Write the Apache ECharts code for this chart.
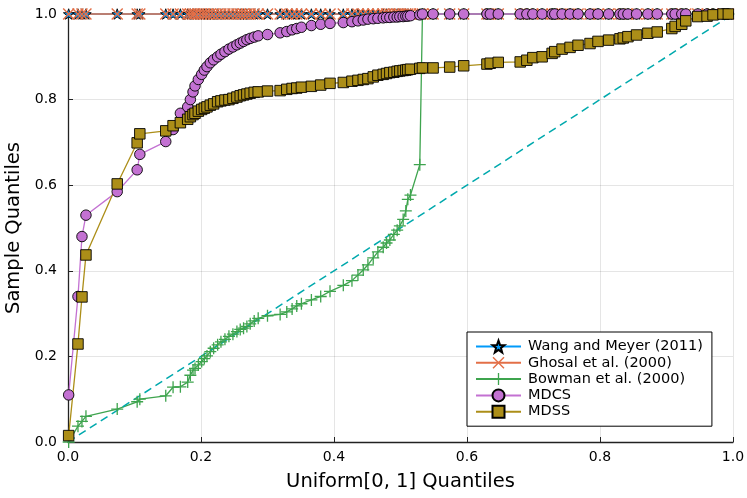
<!DOCTYPE html>
<html>
<head>
<meta charset="utf-8">
<script src="https://cdn.jsdelivr.net/npm/echarts@6/dist/echarts.min.js"></script>
<style>
html, body { margin: 0; padding: 0; background: #fff; }
#chart { width: 747px; height: 498px; }
</style>
</head>
<body>
<div id="chart"></div>
<script>
// sorted uniform[0,1] sample used as x for every series
var uniformQ = [
    0.001, 0.015, 0.021, 0.027, 0.074, 0.104, 0.108, 0.147, 0.158, 0.169,
    0.180, 0.184, 0.188, 0.191, 0.196, 0.201, 0.205, 0.209, 0.214, 0.219,
    0.225, 0.230, 0.236, 0.242, 0.248, 0.254, 0.259, 0.264, 0.269, 0.274,
    0.280, 0.286, 0.300, 0.319, 0.329, 0.337, 0.344, 0.351, 0.366, 0.380,
    0.394, 0.414, 0.427, 0.436, 0.444, 0.451, 0.459, 0.466, 0.474, 0.479,
    0.484, 0.490, 0.495, 0.499, 0.504, 0.508, 0.511, 0.515, 0.529, 0.533,
    0.549, 0.574, 0.595, 0.630, 0.635, 0.647, 0.680, 0.690, 0.699, 0.713,
    0.728, 0.732, 0.743, 0.755, 0.767, 0.785, 0.797, 0.813, 0.830, 0.835,
    0.842, 0.855, 0.872, 0.886, 0.908, 0.913, 0.923, 0.929, 0.947, 0.961,
    0.970, 0.985, 0.993
];

var wangMeyer = [
    1, 1, 1, 1, 1, 1, 1, 1, 1, 1,  1, 1, 1, 1, 1, 1, 1, 1, 1, 1,
    1, 1, 1, 1, 1, 1, 1, 1, 1, 1,  1, 1, 1, 1, 1, 1, 1, 1, 1, 1,
    1, 1, 1, 1, 1, 1, 1, 1, 1, 1,  1, 1, 1, 1, 1, 1, 1, 1, 1, 1,
    1, 1, 1, 1, 1, 1, 1, 1, 1, 1,  1, 1, 1, 1, 1, 1, 1, 1, 1, 1,
    1, 1, 1, 1, 1, 1, 1, 1, 1, 1,  1, 1, 1
];

var ghosal = [
    1, 1, 1, 1, 1, 1, 1, 1, 1, 1,  1, 1, 1, 1, 1, 1, 1, 1, 1, 1,
    1, 1, 1, 1, 1, 1, 1, 1, 1, 1,  1, 1, 1, 1, 1, 1, 1, 1, 1, 1,
    1, 1, 1, 1, 1, 1, 1, 1, 1, 1,  1, 1, 1, 1, 1, 1, 1, 1, 1, 1,
    1, 1, 1, 1, 1, 1, 1, 1, 1, 1,  1, 1, 1, 1, 1, 1, 1, 1, 1, 1,
    1, 1, 1, 1, 1, 1, 1, 1, 1, 1,  1, 1, 1
];

var bowman = [
    0.000, 0.037, 0.048, 0.060, 0.077, 0.094, 0.100, 0.108, 0.128, 0.129,
    0.140, 0.156, 0.168, 0.172, 0.180, 0.188, 0.195, 0.201, 0.211, 0.219,
    0.227, 0.234, 0.240, 0.247, 0.252, 0.258, 0.263, 0.266, 0.270, 0.276,
    0.283, 0.289, 0.295, 0.298, 0.304, 0.311, 0.318, 0.323, 0.332, 0.340,
    0.352, 0.366, 0.377, 0.390, 0.402, 0.414, 0.430, 0.444, 0.455, 0.465,
    0.472, 0.485, 0.495, 0.505, 0.520, 0.540, 0.567, 0.577, 0.648, 1,
    1, 1, 1, 1, 1, 1, 1, 1, 1, 1,  1, 1, 1, 1, 1, 1, 1, 1, 1, 1,
    1, 1, 1, 1, 1, 1, 1, 1, 1, 1,  1, 1, 1
];

var mdcs = [
    0.110, 0.340, 0.480, 0.530, 0.585, 0.636, 0.672, 0.702, 0.730, 0.768,
    0.783, 0.800, 0.818, 0.832, 0.847, 0.859, 0.869, 0.877, 0.886, 0.893,
    0.900, 0.906, 0.912, 0.918, 0.923, 0.928, 0.932, 0.936, 0.940, 0.943,
    0.946, 0.949, 0.952, 0.956, 0.959, 0.963, 0.966, 0.969, 0.973, 0.976,
    0.978, 0.980, 0.982, 0.984, 0.986, 0.988, 0.989, 0.990, 0.991, 0.992,
    0.992, 0.993, 0.993, 0.994, 0.994, 0.995, 0.995, 0.996, 0.998, 1,
    1, 1, 1, 1, 1, 1, 1, 1, 1, 1,  1, 1, 1, 1, 1, 1, 1, 1, 1, 1,
    1, 1, 1, 1, 1, 1, 1, 1, 1, 1,  1, 1, 1
];

var mdss = [
    0.015, 0.229, 0.339, 0.437, 0.603, 0.699, 0.720, 0.727, 0.739, 0.746,
    0.754, 0.760, 0.765, 0.768, 0.773, 0.777, 0.780, 0.783, 0.787, 0.790,
    0.795, 0.797, 0.799, 0.800, 0.803, 0.806, 0.809, 0.811, 0.813, 0.815,
    0.817, 0.818, 0.820, 0.821, 0.824, 0.826, 0.827, 0.829, 0.831, 0.834,
    0.838, 0.840, 0.843, 0.845, 0.847, 0.849, 0.853, 0.857, 0.859, 0.861,
    0.863, 0.864, 0.866, 0.867, 0.868, 0.869, 0.870, 0.871, 0.873, 0.874,
    0.874, 0.876, 0.879, 0.883, 0.885, 0.887, 0.888, 0.892, 0.898, 0.900,
    0.908, 0.912, 0.918, 0.922, 0.927, 0.931, 0.936, 0.939, 0.942, 0.944,
    0.947, 0.951, 0.955, 0.958, 0.966, 0.971, 0.976, 0.984, 0.994, 0.995,
    0.998, 1.000, 1.000
];

var refLineX = [0, 1];
var refLineY = [0, 1];

var seriesNames = ['Wang and Meyer (2011)', 'Ghosal et al. (2000)', 'Bowman et al. (2000)', 'MDCS', 'MDSS'];

var starPath = 'path://M12,0 L14.88,8.04 L23.41,8.29 L16.66,13.51 L19.05,21.71 L12,16.9 L4.95,21.71 L7.34,13.51 L0.59,8.29 L9.12,8.04 Z';
var xPath = 'path://M2,0 L12,10 L22,0 L24,2 L14,12 L24,22 L22,24 L12,14 L2,24 L0,22 L10,12 L0,2 Z';
var plusPath = 'path://M10.7,0 H13.3 V10.7 H24 V13.3 H13.3 V24 H10.7 V13.3 H0 V10.7 H10.7 Z';

function pairs(xs, ys) {
    var out = [];
    for (var i = 0; i < xs.length; i++) out.push([xs[i], ys[i]]);
    return out;
}

function qqSeries(name, ys, color, symbol, size, border) {
    return {
        name: name,
        type: 'line',
        data: pairs(uniformQ, ys),
        symbol: symbol,
        symbolSize: size,
        clip: false,
        lineStyle: { color: color, width: 1.3 },
        itemStyle: {
            color: color,
            borderColor: border ? '#000' : color,
            borderWidth: border ? 0.9 : 0
        },
        emphasis: { disabled: true }
    };
}

var font = 'DejaVu Sans';
var chart = echarts.init(document.getElementById('chart'));

chart.setOption({
    animation: false,
    backgroundColor: '#fff',
    textStyle: { fontFamily: font },
    grid: { left: 68, right: 14, top: 14, bottom: 56, containLabel: false, outerBoundsMode: 'none' },
    xAxis: {
        type: 'value', min: 0, max: 1, interval: 0.2,
        name: 'Uniform[0, 1] Quantiles', nameLocation: 'middle', nameGap: 30,
        nameTextStyle: { fontSize: 19.5, color: '#000', fontFamily: font },
        axisLine: { show: true, onZero: false, lineStyle: { color: '#222', width: 1.3 } },
        axisTick: { show: true, inside: true, length: 5, lineStyle: { color: '#222' } },
        axisLabel: { color: '#000', fontSize: 14, margin: 8, fontFamily: font,
            formatter: function (v) { return v.toFixed(1); } },
        splitLine: { show: true, lineStyle: { color: 'rgba(0,0,0,0.1)', width: 1 } }
    },
    yAxis: {
        type: 'value', min: 0, max: 1, interval: 0.2,
        name: 'Sample Quantiles', nameLocation: 'middle', nameGap: 41,
        nameTextStyle: { fontSize: 19.5, color: '#000', fontFamily: font },
        axisLine: { show: true, onZero: false, lineStyle: { color: '#222', width: 1.3 } },
        axisTick: { show: true, inside: true, length: 5, lineStyle: { color: '#222' } },
        axisLabel: { color: '#000', fontSize: 14, margin: 11, fontFamily: font,
            formatter: function (v) { return v.toFixed(1); } },
        splitLine: { show: true, lineStyle: { color: 'rgba(0,0,0,0.1)', width: 1 } }
    },
    legend: {
        data: seriesNames,
        orient: 'vertical',
        left: 467, top: 332,
        padding: [7, 9, 7, 8],
        itemWidth: 45, itemHeight: 15, itemGap: 1.3,
        backgroundColor: '#fff',
        borderColor: '#000', borderWidth: 1, borderRadius: 0,
        textStyle: { fontSize: 14.5, color: '#000', fontFamily: font, padding: [0, 0, 0, 2] },
        selectedMode: false
    },
    series: [
        qqSeries(seriesNames[0], wangMeyer, '#009AFA', starPath, 10.5, true),
        qqSeries(seriesNames[1], ghosal, '#E36F47', xPath, 12, false),
        qqSeries(seriesNames[2], bowman, '#3EA44E', plusPath, 12, false),
        qqSeries(seriesNames[3], mdcs, '#C371D2', 'circle', 10.5, true),
        qqSeries(seriesNames[4], mdss, '#AC8E18', 'rect', 10.5, true),
        {
            name: 'y = x',
            type: 'line',
            data: pairs(refLineX, refLineY),
            symbol: 'none',
            lineStyle: { color: '#00A9AD', width: 1.5, type: [8, 5] },
            emphasis: { disabled: true }
        }
    ]
});
</script>
</body>
</html>
